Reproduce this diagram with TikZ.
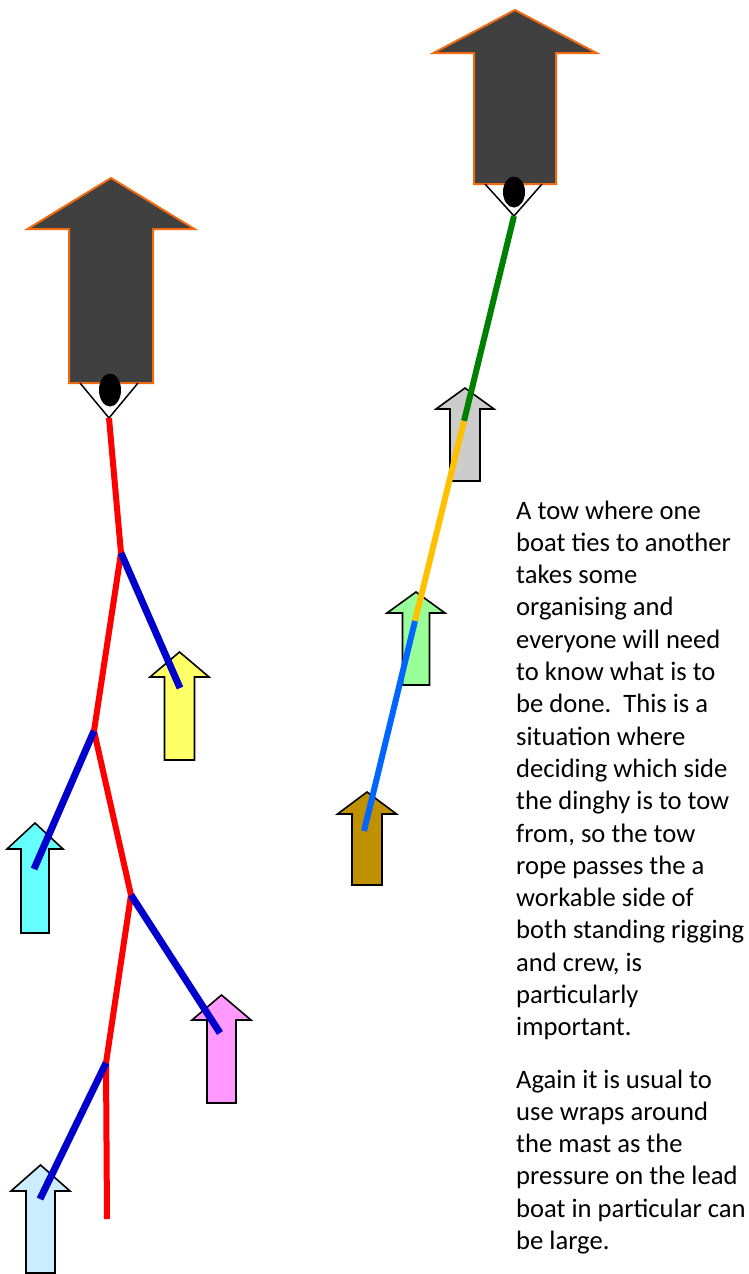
\documentclass[tikz,border=0pt]{standalone}
\usepackage{fontspec}
\setmainfont{Carlito}
\usetikzlibrary{shapes.geometric}
\definecolor{boatgrey}{HTML}{404040}
\definecolor{boatedge}{HTML}{F26A10}
\definecolor{cyellow}{HTML}{FFFF66}
\definecolor{ccyan}{HTML}{66FFFF}
\definecolor{cpink}{HTML}{FF99FF}
\definecolor{clblue}{HTML}{CCECFF}
\definecolor{clgreen}{HTML}{99FF99}
\definecolor{cgrey}{HTML}{CCCCCC}
\definecolor{cbrown}{HTML}{BF9000}
\definecolor{ropered}{HTML}{FF0000}
\definecolor{ropeblue}{HTML}{0000CC}
\definecolor{ropegreen}{HTML}{008000}
\definecolor{ropeorange}{HTML}{FFC000}
\definecolor{ropesky}{HTML}{0066FF}
\newcommand\arrowshape[7]{%
  \draw[#1] (#2,#3) -- (#2+#5,#4) -- (#2+#6,#4) -- (#2+#6,#7) -- (#2-#6,#7)
    -- (#2-#6,#4) -- (#2-#5,#4) -- cycle;}
\newcommand\txtline[3]{\node[textline] (#1) at (516,#2) {#3};}
\begin{document}
\begin{tikzpicture}[x=1pt,y=-1pt,line join=miter,
  bigboat/.style={fill=boatgrey,draw=boatedge,line width=2pt},
  small/.style={draw=black,line width=1.6pt},
  rope/.style={line width=6pt,line cap=butt},
  bridle/.style={draw=black,line width=1.5pt},
  head/.style={ellipse,fill=black,inner sep=0pt},
  textline/.style={anchor=base west,inner sep=0pt,font=\fontsize{26.6}{32}\selectfont}]
\useasboundingbox (0,0) rectangle (748,1274);
\fill[white] (0,0) rectangle (748,1274);

% big boats
\arrowshape{bigboat}{111}{178}{229}{83.5}{42}{383}
\arrowshape{bigboat}{515}{10}{53}{81.5}{41}{184}

% small boats
\arrowshape{small,fill=cgrey}{465}{388}{409}{29}{15}{481}
\arrowshape{small,fill=clgreen}{416}{592}{613}{29}{13.5}{685}
\arrowshape{small,fill=cbrown}{367}{792}{814}{29.5}{15}{885}
\arrowshape{small,fill=cyellow}{179.5}{652}{677}{29.5}{15}{760}
\arrowshape{small,fill=ccyan}{35}{823}{849}{28}{14}{933}
\arrowshape{small,fill=cpink}{221.5}{995}{1020}{29.5}{14.5}{1103}
\arrowshape{small,fill=clblue}{40.5}{1165}{1191}{29.5}{14.5}{1273}

% bridles and helmsmen
\coordinate (L0) at (109,418);
\coordinate (R0) at (514,216);
\coordinate (lbl) at (80,383);
\coordinate (lbr) at (138,383);
\coordinate (rbl) at (485,184);
\coordinate (rbr) at (542,184);
\draw[bridle] (lbl) -- (L0) -- (lbr);
\draw[bridle] (rbl) -- (R0) -- (rbr);
\node[head,minimum width=22pt,minimum height=33pt] (manL) at (110,390) {};
\node[head,minimum width=22pt,minimum height=31pt] (manR) at (514,192) {};

% left tow
\coordinate (L1) at (121,553);
\coordinate (L2) at (94,731);
\coordinate (L3) at (131,895);
\coordinate (L4) at (106,1063);
\coordinate (L5) at (107,1219);
\coordinate (B1) at (180,688);
\coordinate (B2) at (34,869);
\coordinate (B3) at (220,1033);
\coordinate (B4) at (40,1199);
\draw[rope,ropered,line join=round] (L0) -- (L1) -- (L2) -- (L3) -- (L4) -- (L5);
\draw[rope,ropeblue,line width=7pt] (L1) -- (B1);
\draw[rope,ropeblue,line width=7pt] (L2) -- (B2);
\draw[rope,ropeblue,line width=7pt] (L3) -- (B3);
\draw[rope,ropeblue,line width=7pt] (L4) -- (B4);

% right tow
\coordinate (R1) at (464,421);
\coordinate (R2) at (415,621);
\coordinate (R3) at (364,831);
\draw[rope,ropegreen] (R0) -- (R1);
\draw[rope,ropeorange] (R1) -- (R2);
\draw[rope,ropesky] (R2) -- (R3);

% text
\txtline{t1}{519}{A tow where one}
\txtline{t2}{551.3}{boat ties to another}
\txtline{t3}{583.6}{takes some}
\txtline{t4}{615.9}{organising and}
\txtline{t5}{648.2}{everyone will need}
\txtline{t6}{680.5}{to know what is to}
\txtline{t7}{712.8}{be done.\ \ This is a}
\txtline{t8}{745.1}{situation where}
\txtline{t9}{777.4}{deciding which side}
\txtline{t10}{809.7}{the dinghy is to tow}
\txtline{t11}{842}{from, so the tow}
\txtline{t12}{874.3}{rope passes the a}
\txtline{t13}{906.6}{workable side of}
\txtline{t14}{938.9}{both standing rigging}
\txtline{t15}{971.2}{and crew, is}
\txtline{t16}{1003.5}{particularly}
\txtline{t17}{1035.8}{important.}
\txtline{t18}{1088}{Again it is usual to}
\txtline{t19}{1120.3}{use wraps around}
\txtline{t20}{1152.6}{the mast as the}
\txtline{t21}{1184.9}{pressure on the lead}
\txtline{t22}{1217.2}{boat in particular can}
\txtline{t23}{1249.5}{be large.}
\end{tikzpicture}
\end{document}
